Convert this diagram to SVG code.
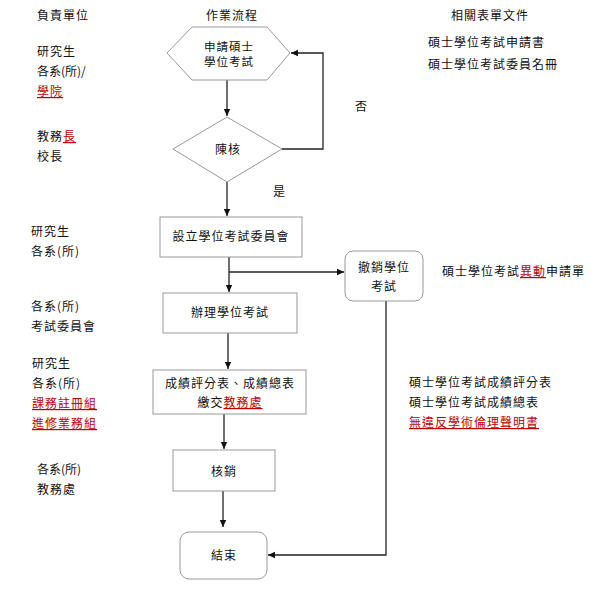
<svg xmlns="http://www.w3.org/2000/svg" width="608" height="594" viewBox="0 0 608 594">
<defs>
<marker id="arr" markerWidth="8" markerHeight="8" refX="7" refY="4" orient="auto" markerUnits="userSpaceOnUse">
<path d="M0,0.8 L7,4 L0,7.2 Z" fill="#111"/>
</marker>
<style>
text{font-family:"Noto Sans CJK TC","Noto Sans CJK SC",sans-serif;font-size:12px;fill:#111}
.c{text-anchor:middle}
.sp{letter-spacing:1px}
.r{fill:#c00000;text-decoration:underline}
.node{fill:#fff;stroke:#999;stroke-width:1}
.ln{fill:none;stroke:#222;stroke-width:1.3}
</style>
</defs>
<rect width="608" height="594" fill="#fff"/>

<g id="headers">
<text x="37" y="20" class="sp">負責單位</text>
<text x="232" y="20" class="c sp">作業流程</text>
<text x="490" y="20" class="c sp">相關表單文件</text>
</g>

<g id="left-units">
<text x="37" y="56" class="sp">研究生</text>
<text x="37" y="76">各系(所)/</text>
<text x="37" y="96" class="sp"><tspan class="r">學院</tspan></text>
<text x="37" y="141" class="sp">教務<tspan class="r">長</tspan></text>
<text x="37" y="161" class="sp">校長</text>
<text x="31" y="236" class="sp">研究生</text>
<text x="31" y="256" class="sp">各系(所)</text>
<text x="31" y="311" class="sp">各系(所)</text>
<text x="31" y="331" class="sp">考試委員會</text>
<text x="32" y="368" class="sp">研究生</text>
<text x="32" y="388" class="sp">各系(所)</text>
<text x="32" y="408" class="sp"><tspan class="r">課務註冊組</tspan></text>
<text x="32" y="428" class="sp"><tspan class="r">進修業務組</tspan></text>
<text x="37" y="474">各系(所)</text>
<text x="37" y="494" class="sp">教務處</text>
</g>

<g id="right-docs">
<text x="428" y="47" class="sp">碩士學位考試申請書</text>
<text x="428" y="69" class="sp">碩士學位考試委員名冊</text>
<text x="442" y="276" class="sp">碩士學位考試<tspan class="r">異動</tspan>申請單</text>
<text x="409" y="387" class="sp">碩士學位考試成績評分表</text>
<text x="409" y="407" class="sp">碩士學位考試成績總表</text>
<text x="409" y="427" class="sp"><tspan class="r">無違反學術倫理聲明書</tspan></text>
</g>

<g id="connectors">
<path class="ln" d="M227,80 V116" marker-end="url(#arr)"/>
<path class="ln" d="M282,149 H323 V53 H291" marker-end="url(#arr)"/>
<path class="ln" d="M227,182 V216" marker-end="url(#arr)"/>
<path class="ln" d="M229,257 V292" marker-end="url(#arr)"/>
<path class="ln" d="M229,272 H344" marker-end="url(#arr)"/>
<path class="ln" d="M228,333 V369" marker-end="url(#arr)"/>
<path class="ln" d="M224,414 V449" marker-end="url(#arr)"/>
<path class="ln" d="M223,491 V527" marker-end="url(#arr)"/>
<path class="ln" d="M386,301 V555 H268" marker-end="url(#arr)"/>
<text x="355" y="111">否</text>
<text x="273" y="196">是</text>
</g>

<g id="n-apply">
<polygon class="node" points="167,53 192,27 267,27 290,53 267,80 192,80"/>
<text class="c sp" style="font-size:11.5px"><tspan x="229" y="51">申請碩士</tspan><tspan x="229" y="66">學位考試</tspan></text>
</g>

<g id="n-review">
<polygon class="node" points="227,117 282,149 227,182 173,149"/>
<text x="228" y="154" class="c sp">陳核</text>
</g>

<g id="n-committee">
<rect class="node" x="160" y="217" width="142" height="40"/>
<text x="231" y="241" class="c sp">設立學位考試委員會</text>
</g>

<g id="n-revoke">
<rect class="node" x="345" y="251" width="78" height="50" rx="8"/>
<text class="c sp"><tspan x="384" y="272">撤銷學位</tspan><tspan x="384" y="291">考試</tspan></text>
</g>

<g id="n-exam">
<rect class="node" x="163" y="293" width="134" height="40"/>
<text x="230" y="317" class="c sp">辦理學位考試</text>
</g>

<g id="n-submit">
<rect class="node" x="153" y="370" width="153" height="44"/>
<text class="c sp"><tspan x="230" y="388">成績評分表、成績總表</tspan><tspan x="230" y="407">繳交<tspan class="r">教務處</tspan></tspan></text>
</g>

<g id="n-writeoff">
<rect class="node" x="173" y="450" width="102" height="41"/>
<text x="224" y="476" class="c sp">核銷</text>
</g>

<g id="n-end">
<rect class="node" x="180" y="532" width="87" height="47" rx="9"/>
<text x="224" y="560" class="c sp">結束</text>
</g>
</svg>
